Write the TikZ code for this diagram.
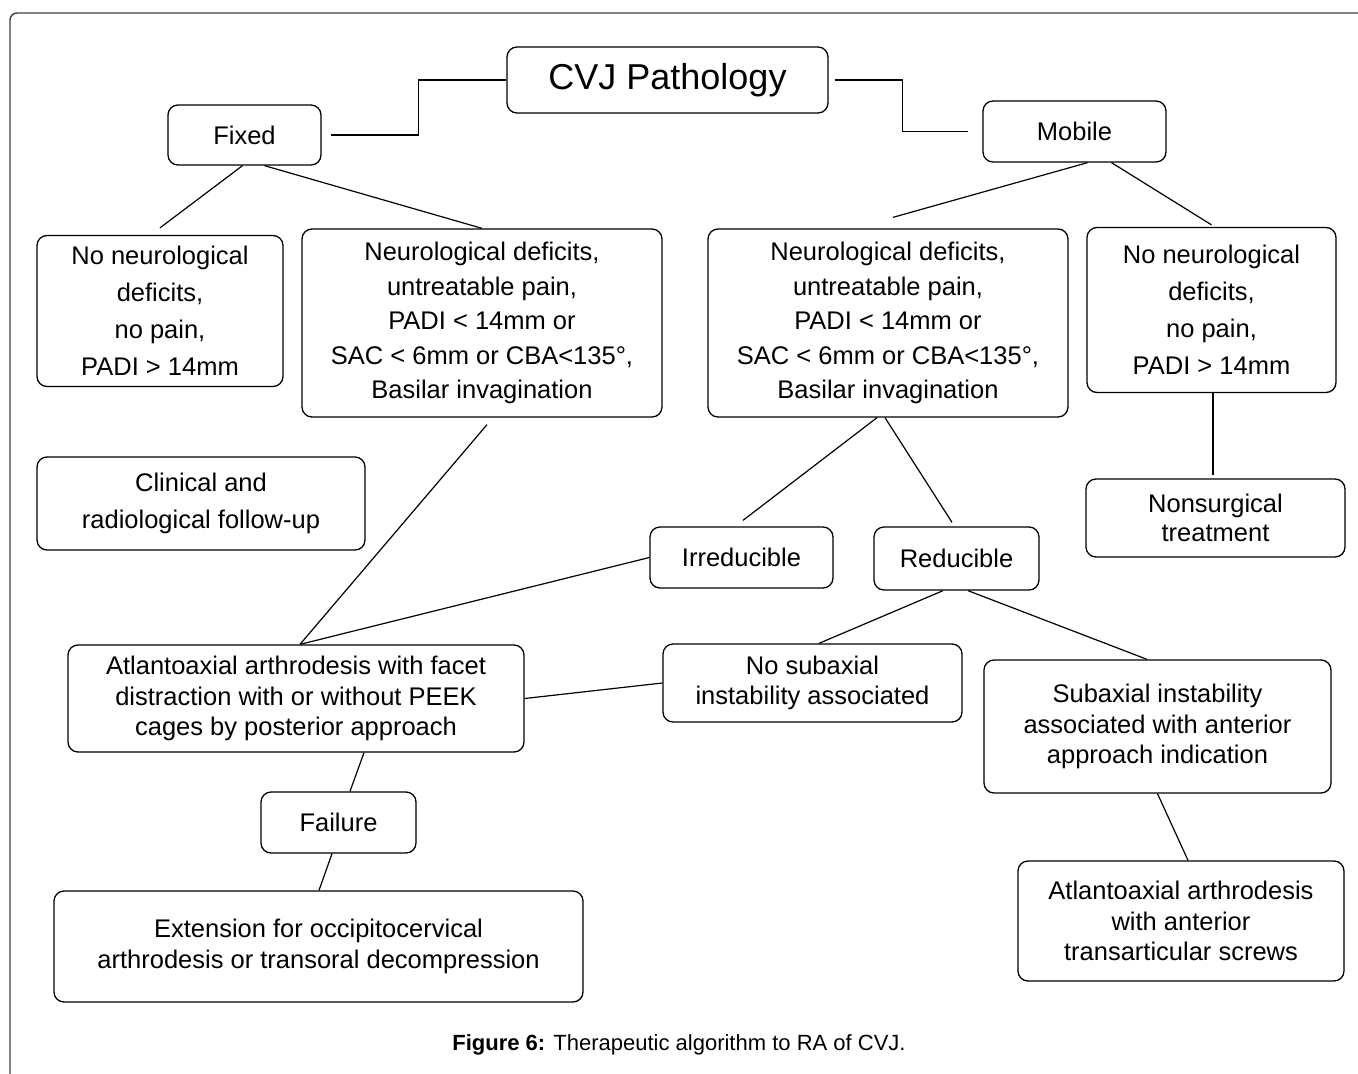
\documentclass[tikz,border=0pt]{standalone}
\usepackage{fontspec}
\setmainfont{Liberation Sans}
\usepackage{tikz}
\usetikzlibrary{calc}

\tikzset{
  box/.style={draw, rounded corners=10pt, line width=1.3pt, align=center, inner sep=0pt,
    font=\fontsize{25.5}{30.5}\selectfont},
  loose/.style={font=\fontsize{25.5}{37}\selectfont},
  mid/.style={font=\fontsize{25.5}{34.5}\selectfont},
  link/.style={line width=1.2pt}
}

\begin{document}
\begin{tikzpicture}[x=1pt,y=-1pt]
\useasboundingbox (0,0) rectangle (1358,1074);
\draw[line width=1.4pt, black!75, rounded corners=7pt] (10,1074) -- (10,13) -- (1358,13);

\node[box, minimum width=321pt, minimum height=66pt, font=\fontsize{36}{40}\selectfont] (cvj) at (667.5,80) {CVJ Pathology};
\node[box, minimum width=153pt, minimum height=60pt] (fixed) at (244.5,135) {Fixed};
\node[box, minimum width=183pt, minimum height=61pt] (mobile) at (1074.5,131.5) {Mobile};

\node[box, loose, minimum width=246pt, minimum height=151pt] (noneuroL) at (160,311) {No neurological\\deficits,\\no pain,\\PADI > 14mm};
\node[box, mid, minimum width=360pt, minimum height=188pt] (neuroL) at (482,323) {Neurological deficits,\\untreatable pain,\\PADI < 14mm or\\SAC < 6mm or CBA<135°,\\Basilar invagination};
\node[box, mid, minimum width=360pt, minimum height=188pt] (neuroR) at (888,323) {Neurological deficits,\\untreatable pain,\\PADI < 14mm or\\SAC < 6mm or CBA<135°,\\Basilar invagination};
\node[box, loose, minimum width=249pt, minimum height=165pt] (noneuroR) at (1211.5,310) {No neurological\\deficits,\\no pain,\\PADI > 14mm};

\node[box, loose, minimum width=328pt, minimum height=93pt] (clinical) at (201,503.5) {Clinical and\\radiological follow-up};
\node[box, font=\fontsize{25.5}{29}\selectfont, minimum width=259pt, minimum height=78pt] (nonsurg) at (1215.5,518) {Nonsurgical\\treatment};

\node[box, minimum width=183pt, minimum height=61pt] (irred) at (741.5,557.5) {Irreducible};
\node[box, minimum width=165pt, minimum height=63pt] (red) at (956.5,558.5) {Reducible};

\node[box, minimum width=456pt, minimum height=107pt] (atlL) at (296,698.5) {Atlantoaxial arthrodesis with facet\\distraction with or without PEEK\\cages by posterior approach};
\node[box, minimum width=299pt, minimum height=78pt] (nosub) at (812.5,683) {No subaxial\\instability associated};
\node[box, minimum width=347pt, minimum height=133pt] (subax) at (1157.5,726.5) {Subaxial instability\\associated with anterior\\approach indication};

\node[box, minimum width=155pt, minimum height=61pt] (failure) at (338.5,822.5) {Failure};
\node[box, minimum width=529pt, minimum height=111pt] (ext) at (318.5,946.5) {Extension for occipitocervical\\arthrodesis or transoral decompression};
\node[box, minimum width=326pt, minimum height=120pt] (atlR) at (1181,921) {Atlantoaxial arthrodesis\\with anterior\\transarticular screws};

\node[font=\fontsize{22}{26}\selectfont] (caption) at (679,1045) {\textbf{Figure 6:} Therapeutic algorithm to RA of CVJ.};

\draw[link, shorten >=9pt] (cvj.west) -- ++(-88,0) |- (fixed.east);
\draw[link, shorten <=6pt, shorten >=14pt] (cvj.east) -- ++(74,0) |- (mobile.west);
\draw[link] ([xshift=-2pt]fixed.south) -- ([yshift=7pt]noneuroL.north);
\draw[link] ([xshift=20pt]fixed.south) -- (neuroL.north);
\draw[link] ([xshift=13pt]mobile.south) -- ([xshift=5pt,yshift=11pt]neuroR.north);
\draw[link] ([xshift=37pt]mobile.south) -- ([yshift=2pt]noneuroR.north);
\draw[link] ([xshift=1.5pt]noneuroR.south) -- ($(noneuroR.south |- nonsurg.north)+(1.5,-3)$);
\draw[link] ([xshift=5pt,yshift=-7pt]neuroL.south) -- ([xshift=4pt]atlL.north);
\draw[link] (irred.west) -- ([xshift=4pt]atlL.north);
\draw[link] ([xshift=-11pt]neuroR.south) -- ([xshift=1.5pt,yshift=6pt]irred.north);
\draw[link] ([xshift=-3pt]neuroR.south) -- ([xshift=-4.5pt,yshift=4pt]red.north);
\draw[link] ([xshift=-13.5pt]red.south) -- ([xshift=6.5pt]nosub.north);
\draw[link] ([xshift=11.5pt]red.south) -- ([xshift=-10.5pt]subax.north);
\draw[link] (nosub.west) -- (atlL.east);
\draw[link] ([xshift=68pt]atlL.south) -- ([xshift=11.5pt]failure.north);
\draw[link] ([xshift=-6.5pt]failure.south) -- ([xshift=0.5pt]ext.north);
\draw[link] (subax.south) -- ([xshift=7pt]atlR.north);
\end{tikzpicture}
\end{document}
